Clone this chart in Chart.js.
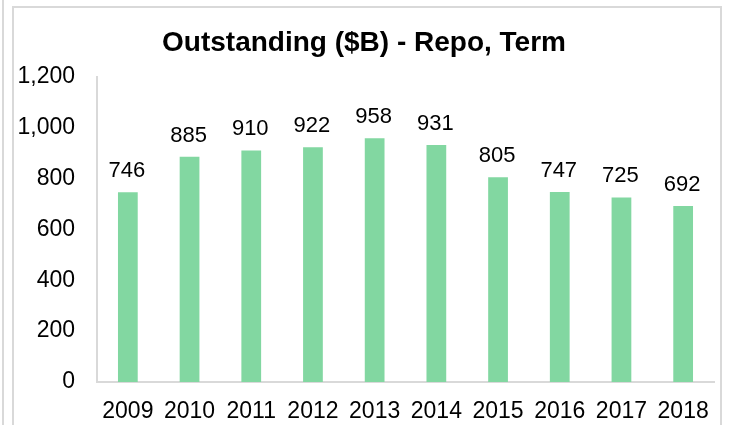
<!DOCTYPE html>
<html><head><meta charset="utf-8">
<script src="https://cdn.jsdelivr.net/npm/chart.js@4/dist/chart.umd.min.js"></script>
<style>html,body{margin:0;padding:0;background:#fff}#wrap{width:729px;height:425px;position:relative}</style>
</head><body><div id="wrap"><canvas id="c" width="729" height="425"></canvas></div>
<script>
const categories = ['2009','2010','2011','2012','2013','2014','2015','2016','2017','2018'];
const values = [746, 885, 910, 922, 958, 931, 805, 747, 725, 692];
const yTicks = [0, 200, 400, 600, 800, 1000, 1200];

const FONT = '"Liberation Sans", Arial, sans-serif';
const frame = {
  id: 'frame',
  beforeDraw(chart) {
    const ctx = chart.ctx;
    ctx.save();
    ctx.fillStyle = '#fff';
    ctx.fillRect(0, 0, chart.width, chart.height);
    ctx.strokeStyle = '#d9d9d9';
    ctx.lineWidth = 2;
    ctx.beginPath();
    ctx.moveTo(3, 0); ctx.lineTo(3, 425);
    ctx.moveTo(13, 425); ctx.lineTo(13, 7); ctx.lineTo(721, 7); ctx.lineTo(721, 425);
    ctx.stroke();
    ctx.restore();
  }
};
const labels = {
  id: 'labels',
  afterDatasetsDraw(chart) {
    const ctx = chart.ctx;
    const meta = chart.getDatasetMeta(0);
    ctx.save();
    ctx.font = '22px ' + FONT;
    ctx.fillStyle = '#000';
    ctx.textAlign = 'center';
    ctx.textBaseline = 'alphabetic';
    meta.data.forEach((bar, i) => {
      ctx.fillText(String(values[i]), bar.x - 1, bar.y - 15);
    });
    ctx.restore();
  }
};

new Chart(document.getElementById('c'), {
  type: 'bar',
  data: {
    labels: categories,
    datasets: [{ data: values, backgroundColor: '#82d7a1', categoryPercentage: 1, barPercentage: 0.32 }]
  },
  options: {
    responsive: false,
    animation: false,
    layout: { padding: { left: 14, right: 15, top: 9, bottom: 0 } },
    plugins: {
      legend: { display: false },
      tooltip: { enabled: false },
      title: {
        display: true,
        text: 'Outstanding ($B) - Repo, Term',
        color: '#000',
        font: { family: FONT, size: 28, weight: 'bold' },
        padding: { top: 17, bottom: 17 }
      }
    },
    scales: {
      x: {
        afterFit(axis) { axis.height = 43; },
        grid: { display: false, drawTicks: false },
        border: { display: true, color: '#d9d9d9', width: 2 },
        ticks: { color: '#000', font: { family: FONT, size: 23 }, padding: 16, maxRotation: 0 }
      },
      y: {
        min: 0, max: 1200,
        afterBuildTicks(axis) { axis.ticks = yTicks.map(v => ({ value: v })); },
        afterFit(axis) { axis.width = 83; },
        grid: { display: false, drawTicks: false },
        border: { display: true, color: '#d9d9d9', width: 2 },
        ticks: {
          color: '#000', padding: 22,
          font: { family: FONT, size: 23 },
          callback: v => v.toLocaleString('en-US')
        }
      }
    }
  },
  plugins: [frame, labels]
});
</script></body></html>
